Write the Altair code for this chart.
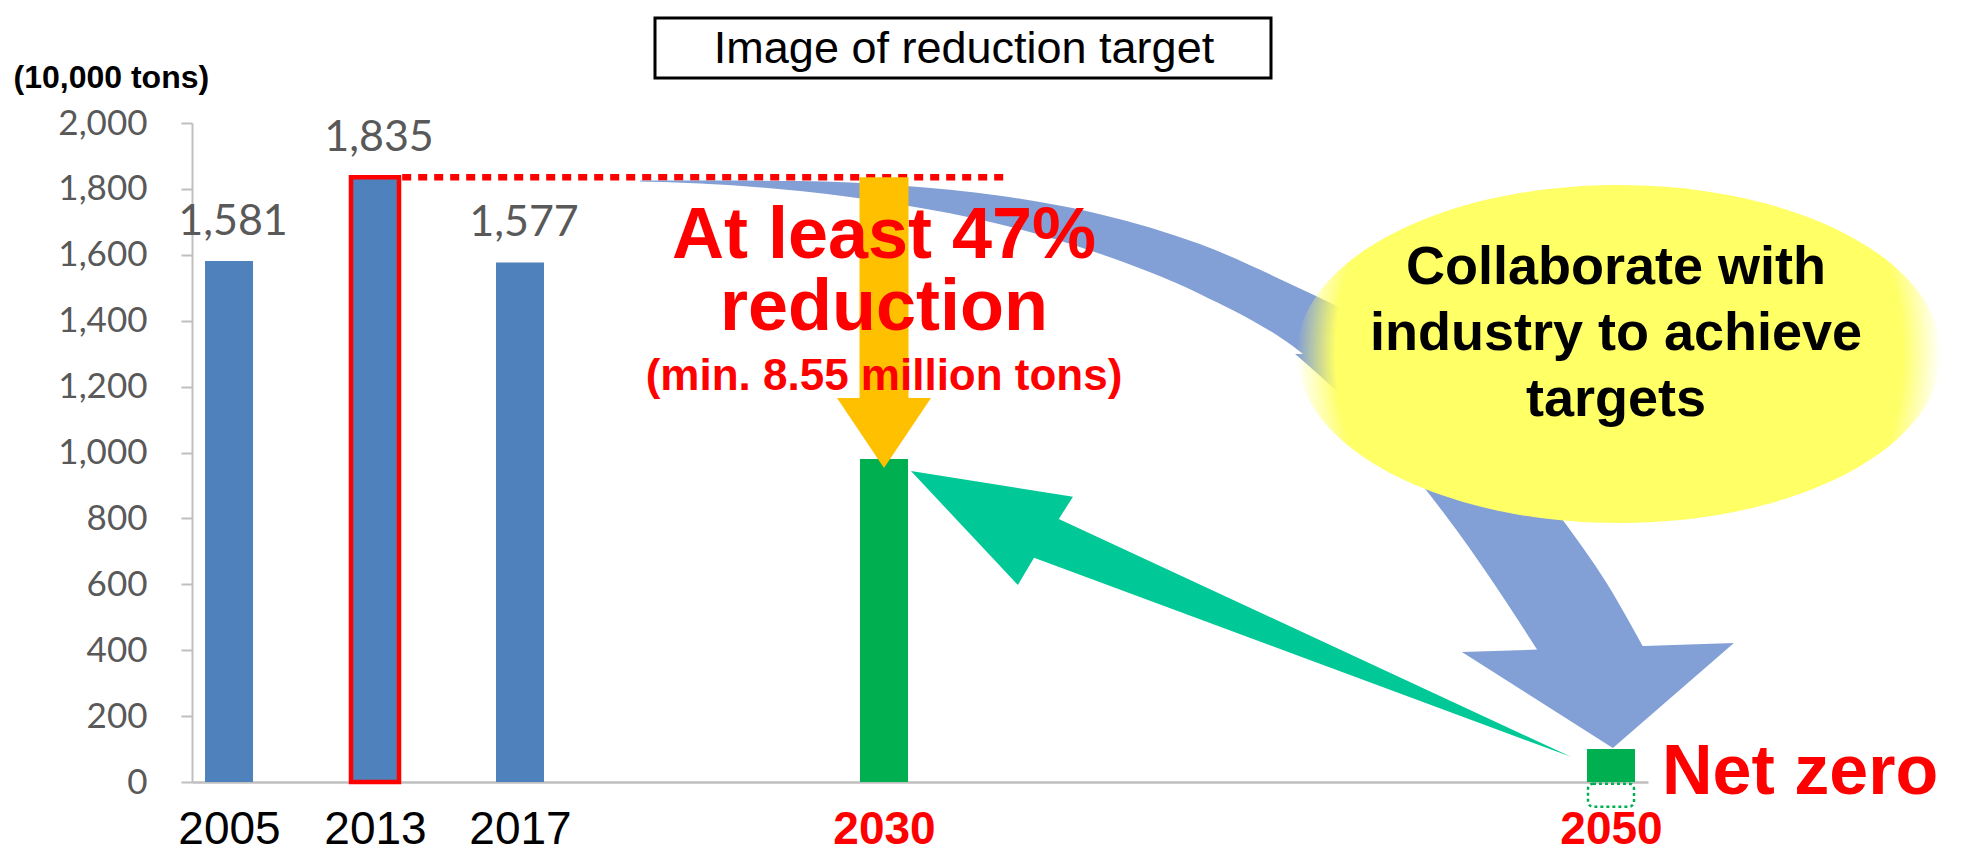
import altair as alt
import pandas as pd

# ---------------- data ----------------
years = [2005, 2013, 2017, 2030, 2050]
emissions = [1581, 1835, 1577, 980, 100]
x_ticks = [2005, 2013, 2017, 2030, 2050]
y_ticks = [0, 200, 400, 600, 800, 1000, 1200, 1400, 1600, 1800, 2000]

base_year = 2013
base_value = 1835
level_line_end = 2033.3

removal_year = 2050
removal_top = -5
removal_bottom = -75

title_text = "Image of reduction target"
unit_text = "(10,000 tons)"
reduction_lines = ["At least 47%", "reduction", "(min. 8.55 million tons)"]
reduction_x = [2030, 2030, 2030]
reduction_y = [1590, 1372, 1190]
collab_lines = ["Collaborate with", "industry to achieve", "targets"]
collab_x = 2050.16
collab_y = 1511
netzero_text = "Net zero"

# annotation geometry (data coordinates: year, 10,000 tons)
orange_x = 2030
orange_shaft_top = 1835
orange_shaft_bottom = 1160
orange_head_y = 1059

# blue curved band, upper part (vertical sections)
blue_top_x = [2021.29, 2023.43, 2027.00, 2030.44, 2033.19, 2035.94, 2038.69,
              2041.44, 2042.82, 2044.20, 2045.30]
blue_top_hi = [1825.5, 1825.5, 1824.0, 1810.6, 1779.4, 1723.2, 1632.5,
               1497.7, 1424.0, 1331.7, 1235.2]
blue_top_lo = [1822.5, 1816.4, 1793.6, 1752.4, 1692.6, 1603.0, 1481.3,
               1306.5, 1173.6, 1005.2, 846.7]
# blue curved band, lower part (horizontal sections)
blue_low_y = [1298.9, 1168.4, 1010.6, 819.4, 603.9, 488.6, 355.1]
blue_low_inner = [2041.31, 2042.63, 2043.98, 2045.38, 2046.77, 2047.46, 2048.24]
blue_low_outer = [2044.33, 2045.76, 2047.17, 2048.51, 2049.88, 2050.56, 2051.32]
blue_head_x = 2049.64
blue_head_y = 264

teal_x = 2039.82
teal_y = 510

ellipse_x = 2050.25
ellipse_y = 1299

# ---------------- style ----------------
BLUE = "#4F81BD"
GREEN = "#00B050"
RED = "#FF0000"
ORANGE = "#FFC000"
BLUE_ARROW = "#829FD6"
TEAL = "#00C896"
YELLOW = "#FFFF66"
GREY_TXT = "#595959"
AXIS_GREY = "#BFBFBF"

X_SCALE = alt.Scale(domain=[2003, 2005, 2013, 2017, 2030, 2050, 2051],
                    range=[0, 37, 183, 328, 692, 1419, 1456],
                    nice=False, zero=False)
Y_SCALE = alt.Scale(domain=[0, 2000], nice=False, zero=False)

AX_X = alt.Axis(values=x_ticks, format="d", grid=False, title=None,
                domainColor=AXIS_GREY, domainWidth=2.5, ticks=False, tickSize=0,
                labelFont="Liberation Sans", labelFontSize=46,
                labelPadding=47, labelBaseline="middle",
                labelColor={"condition": {"test": "datum.value >= 2030", "value": RED},
                            "value": "#000000"},
                labelFontWeight={"condition": {"test": "datum.value >= 2030", "value": "bold"},
                                 "value": "normal"})
AX_Y = alt.Axis(values=y_ticks, format=",d", grid=False,
                domainColor=AXIS_GREY, domainWidth=2, tickColor=AXIS_GREY,
                tickWidth=2, tickSize=11, labelFont="Lato", labelFontSize=35,
                labelColor=GREY_TXT, labelPadding=34,
                title=unit_text, titleAngle=0, titleAlign="left",
                titleBaseline="middle", titleX=-179, titleY=-46,
                titleFont="Liberation Sans", titleFontSize=32,
                titleFontWeight="bold", titleColor="#000000")

ORANGE_HEAD = "M -1 -0.745 L 1 -0.745 L 0 0.745 Z"
BLUE_HEAD = "M -1 -0.316 L 1 -0.382 L 0.11 0.39 Z"
TEAL_ARROW = ("M -1 -0.433 L -0.509 -0.355 L -0.552 -0.288 L 1 0.433 "
              "L -0.627 -0.17 L -0.676 -0.088 Z")
ELLIPSE = ("M -1 0 C -1 -0.29 -0.5523 -0.525 0 -0.525 C 0.5523 -0.525 1 -0.29 1 0 "
           "C 1 0.29 0.5523 0.525 0 0.525 C -0.5523 0.525 -1 0.29 -1 0 Z")


def X(field):
    return alt.X(field, type="quantitative", scale=X_SCALE, axis=AX_X)


def Y(field):
    return alt.Y(field, type="quantitative", scale=Y_SCALE, axis=AX_Y)


bars_df = pd.DataFrame({"year": years, "value": emissions})

# dotted level line of 2013
level = alt.Chart(pd.DataFrame({"x": [base_year + 0.75], "x2": [level_line_end],
                                "y": [base_value]})).mark_rule(
    color=RED, strokeWidth=6.5, strokeDash=[9, 7]
).encode(x=X("x"), x2="x2", y=Y("y"))

bars = alt.Chart(bars_df).mark_bar(size=48, stroke=RED).encode(
    x=X("year"),
    y=Y("value"),
    color=alt.condition("datum.year >= 2030", alt.value(GREEN), alt.value(BLUE)),
    strokeWidth=alt.condition("datum.year == 2013", alt.value(4.5), alt.value(0)),
)

value_labels = alt.Chart(bars_df).transform_filter("datum.year < 2030").mark_text(
    font="Lato", fontSize=43, color=GREY_TXT, baseline="alphabetic", dy=-26, dx=4
).encode(x=X("year"), y=Y("value"), text=alt.Text("value:Q", format=","))

removal_box = alt.Chart(pd.DataFrame({"year": [removal_year], "top": [removal_top],
                                      "bottom": [removal_bottom]})).mark_bar(
    size=46, fill="white", fillOpacity=0, stroke=GREEN, strokeWidth=2.5,
    strokeDash=[3, 3], cornerRadius=5
).encode(x=X("year"), y=Y("top"), y2="bottom")

# blue curved arrow
blue_upper = alt.Chart(pd.DataFrame({"x": blue_top_x, "hi": blue_top_hi, "lo": blue_top_lo})).mark_area(
    color=BLUE_ARROW, opacity=1, interpolate="monotone"
).encode(x=X("x"), y=Y("hi"), y2="lo")
blue_lower = alt.Chart(pd.DataFrame({"y": blue_low_y, "xi": blue_low_inner,
                                     "xo": blue_low_outer})).mark_area(
    color=BLUE_ARROW, opacity=1, interpolate="monotone", orient="horizontal"
).encode(y=Y("y"), x=X("xi"), x2="xo")
blue_head = alt.Chart(pd.DataFrame({"x": [blue_head_x], "y": [blue_head_y]})).mark_point(
    shape=BLUE_HEAD, size=73984, filled=True, color=BLUE_ARROW, opacity=1, strokeWidth=0
).encode(x=X("x"), y=Y("y"))

# teal arrow
teal = alt.Chart(pd.DataFrame({"x": [teal_x], "y": [teal_y]})).mark_point(
    shape=TEAL_ARROW, size=435600, filled=True, color=TEAL, opacity=1, strokeWidth=0
).encode(x=X("x"), y=Y("y"))

# orange reduction arrow
orange_shaft = alt.Chart(pd.DataFrame({"x": [orange_x], "y": [orange_shaft_top],
                                       "y2": [orange_shaft_bottom]})).mark_bar(
    size=49, color=ORANGE
).encode(x=X("x"), y=Y("y"), y2="y2")
orange_head = alt.Chart(pd.DataFrame({"x": [orange_x], "y": [orange_head_y]})).mark_point(
    shape=ORANGE_HEAD, size=8836, filled=True, color=ORANGE, opacity=1, strokeWidth=0
).encode(x=X("x"), y=Y("y"))

# yellow ellipse with soft edge
glow = alt.Gradient(gradient="radial",
                    stops=[alt.GradientStop(offset=0, color=YELLOW),
                           alt.GradientStop(offset=0.88, color=YELLOW),
                           alt.GradientStop(offset=1, color="rgba(255,255,102,0)")],
                    x1=0.5, y1=0.5, r1=0, x2=0.5, y2=0.5, r2=0.5)
ellipse = alt.Chart(pd.DataFrame({"x": [ellipse_x], "y": [ellipse_y]})).mark_point(
    shape=ELLIPSE, size=414736, filled=True, fill=glow, opacity=1, strokeWidth=0
).encode(x=X("x"), y=Y("y"))

collab = alt.Chart(pd.DataFrame({"x": [collab_x], "y": [collab_y],
                                 "t": ["\n".join(collab_lines)]})).mark_text(
    font="Liberation Sans", fontSize=54, fontWeight="bold", color="#000000",
    align="center", baseline="alphabetic", lineBreak="\n", lineHeight=66
).encode(x=X("x"), y=Y("y"), text="t:N")

red_df = pd.DataFrame({"x": reduction_x, "y": reduction_y, "t": reduction_lines})
red_big = alt.Chart(red_df).transform_filter("datum.t != '(min. 8.55 million tons)'").mark_text(
    font="Liberation Sans", fontSize=72, fontWeight="bold", color=RED,
    align="center", baseline="alphabetic"
).encode(x=X("x"), y=Y("y"), text="t:N")
red_small = alt.Chart(red_df).transform_filter("datum.t == '(min. 8.55 million tons)'").mark_text(
    font="Liberation Sans", fontSize=44, fontWeight="bold", color=RED,
    align="center", baseline="alphabetic"
).encode(x=X("x"), y=Y("y"), text="t:N")

netzero = alt.Chart(pd.DataFrame({"year": [2050], "value": [0], "t": [netzero_text]})).mark_text(
    font="Liberation Sans", fontSize=70, fontWeight="bold", color=RED,
    align="left", baseline="alphabetic", dx=51, dy=12
).encode(x=X("year"), y=Y("value"), text="t:N")

title_df = pd.DataFrame({"t": [title_text]})
title_box = alt.Chart(title_df).mark_rect(fill="white", stroke="#000000", strokeWidth=3).encode(
    x=alt.value(463), x2=alt.value(1079), y=alt.value(-105), y2=alt.value(-45)
)
title_txt = alt.Chart(title_df).mark_text(
    font="Liberation Sans", fontSize=45, color="#000000", align="center", baseline="alphabetic"
).encode(x=alt.value(772), y=alt.value(-60), text="t:N")

chart = alt.layer(
    level, bars, removal_box, value_labels, blue_upper, blue_lower, blue_head, teal,
    orange_shaft, orange_head, ellipse, collab, red_big, red_small, netzero,
    title_box, title_txt
).properties(
    width=1456, height=659,
    autosize=alt.AutoSizeParams(type="none"),
    padding={"left": 184, "top": 115, "right": 305, "bottom": 76},
).configure_view(strokeWidth=0)

chart.save("out.html", embed_options={"renderer": "svg", "actions": False})
